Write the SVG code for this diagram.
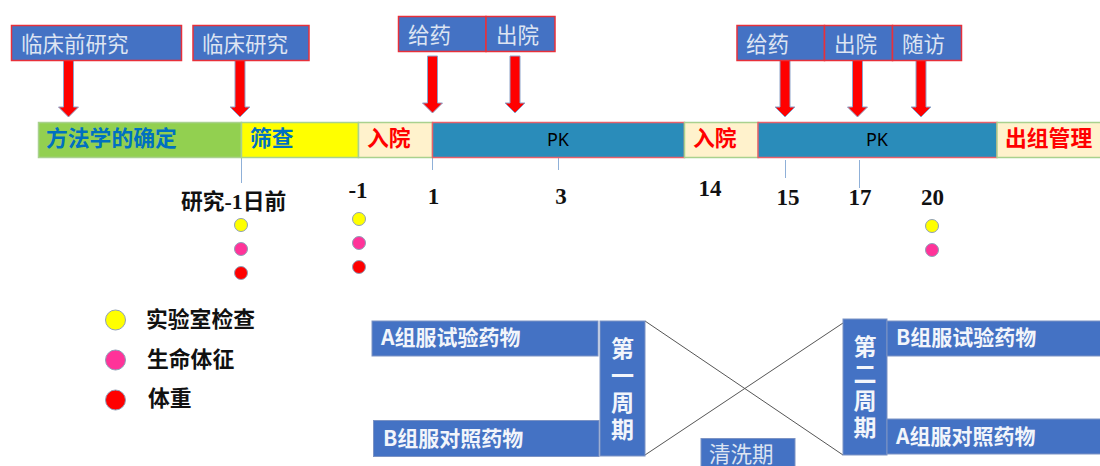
<svg xmlns="http://www.w3.org/2000/svg" width="1100" height="466" viewBox="0 0 1100 466">
<defs>
<style>
text{font-family:"Noto Sans CJK SC","Liberation Sans",sans-serif}
.hd rect{fill:#4472c4;stroke:#e8303a;stroke-width:1.5}
.hd text{fill:#dce4f2;font-size:21.5px}
.seg{stroke-width:1.5}
.green{fill:#92d050;stroke:#a9d18e}
.yellow{fill:#ffff00;stroke:#a9d18e}
.cream{fill:#fff2cc;stroke:#a9d18e}
.pk{fill:#2a8cba;stroke:#e8606a}
.t-b{fill:#0070c0;font-size:21.800px;font-weight:700}
.t-r{fill:#ff0000;font-size:21.800px;font-weight:700}
.t-k{fill:#000;font-size:18px;font-family:"Noto Sans","Liberation Sans",sans-serif}
.num{font-family:"Liberation Serif",serif;font-weight:700;font-size:23px;fill:#111;text-anchor:middle}
.lab{font-size:21.800px;font-weight:700;fill:#111}
.arrow{fill:#ff0000;stroke:#8da3c9;stroke-width:1}
.tick{stroke:#8fb0d8;stroke-width:1;fill:none}
.c-y{fill:#ffff00;stroke:#8f9fb8;stroke-width:1}
.c-p{fill:#ff3399;stroke:#8f9fb8;stroke-width:1}
.c-r{fill:#ff0000;stroke:#8f9fb8;stroke-width:1}
.blue rect{fill:#4472c4;stroke:#7c93c4;stroke-width:1}
.blue text{fill:#f2f5fb;font-size:21px;font-weight:700}
.blue text.vt{font-size:23px;writing-mode:vertical-rl;letter-spacing:4px}
.x{stroke:#555;stroke-width:1;fill:none}
</style>
<path id="arr" class="arrow" d="M-5,0H5V47H10L0,57L-10,47H-5Z"/>
</defs>

<g id="connectors">
<line class="x" x1="645" y1="321" x2="843" y2="455"/>
<line class="x" x1="645" y1="455" x2="843" y2="323"/>
<path class="tick" d="M241.500,157V183M432.500,157V170M558.500,157V170M785.500,160V178M859.500,160V188"/>
<use href="#arr" x="68.500" y="60"/>
<use href="#arr" x="240" y="60"/>
<use href="#arr" x="432.500" y="56"/>
<use href="#arr" x="515" y="56"/>
<use href="#arr" x="785" y="60"/>
<use href="#arr" x="857.500" y="60"/>
<use href="#arr" x="921" y="60"/>
</g>

<g id="n-preclinical" class="hd"><rect x="11.500" y="25.500" width="170" height="35"/><text x="21" y="52">临床前研究</text></g>
<g id="n-clinical" class="hd"><rect x="193" y="25.500" width="116" height="35"/><text x="202" y="52">临床研究</text></g>
<g id="n-dose1" class="hd"><rect x="398.500" y="16.500" width="87.500" height="35"/><text x="408" y="43">给药</text></g>
<g id="n-out1" class="hd"><rect x="486" y="16.500" width="69" height="35"/><text x="496" y="43">出院</text></g>
<g id="n-dose2" class="hd"><rect x="737" y="25.500" width="87.500" height="35"/><text x="746" y="52">给药</text></g>
<g id="n-out2" class="hd"><rect x="824.500" y="25.500" width="68" height="35"/><text x="834" y="52">出院</text></g>
<g id="n-visit" class="hd"><rect x="892.500" y="25.500" width="69" height="35"/><text x="902" y="52">随访</text></g>

<g id="n-method"><rect class="seg green" x="38.500" y="122.500" width="203" height="35"/><text class="t-b" x="46" y="146">方法学的确定</text></g>
<g id="n-screen"><rect class="seg yellow" x="241.500" y="122.500" width="117" height="35"/><text class="t-b" x="250" y="146">筛查</text></g>
<g id="n-in1"><rect class="seg cream" x="358.500" y="122.500" width="74" height="35"/><text class="t-r" x="367" y="146">入院</text></g>
<g id="n-pk1"><rect class="seg pk" x="432.500" y="122.500" width="252" height="35"/><text class="t-k" x="558" y="146" text-anchor="middle">PK</text></g>
<g id="n-in2"><rect class="seg cream" x="684.500" y="122.500" width="74" height="35"/><text class="t-r" x="693" y="146">入院</text></g>
<g id="n-pk2"><rect class="seg pk" x="758" y="122.500" width="239" height="35"/><text class="t-k" x="877" y="146" text-anchor="middle">PK</text></g>
<g id="n-exit"><rect class="seg cream" x="997" y="122.500" width="105" height="35"/><text class="t-r" x="1005" y="146">出组管理</text></g>

<g id="days">
<text class="lab" x="181" y="209">研究<tspan style="font-family:'Liberation Serif',serif">-1</tspan>日前</text>
<text class="num" x="358" y="198">-1</text>
<text class="num" x="433.500" y="204">1</text>
<text class="num" x="561" y="204">3</text>
<text class="num" x="710" y="196">14</text>
<text class="num" x="788" y="205">15</text>
<text class="num" x="860" y="205">17</text>
<text class="num" x="932.500" y="205">20</text>
</g>

<g id="marks">
<circle class="c-y" cx="241" cy="225" r="6.500"/><circle class="c-p" cx="241" cy="249" r="6.500"/><circle class="c-r" cx="241" cy="273" r="6.500"/>
<circle class="c-y" cx="359" cy="219" r="6.500"/><circle class="c-p" cx="359" cy="243" r="6.500"/><circle class="c-r" cx="359" cy="267" r="6.500"/>
<circle class="c-y" cx="932" cy="226" r="6.500"/><circle class="c-p" cx="932" cy="250" r="6.500"/>
</g>

<g id="legend-lab"><circle class="c-y" cx="115.500" cy="320" r="10"/><text class="lab" x="146" y="327">实验室检查</text></g>
<g id="legend-vital"><circle class="c-p" cx="115.500" cy="360" r="10"/><text class="lab" x="147" y="367">生命体征</text></g>
<g id="legend-weight"><circle class="c-r" cx="115.500" cy="400" r="10"/><text class="lab" x="148" y="406">体重</text></g>

<g id="n-a-test" class="blue"><rect x="372" y="321" width="226" height="35"/><text x="381" y="345">A组服试验药物</text></g>
<g id="n-b-ctrl" class="blue"><rect x="373.500" y="420.500" width="225.500" height="36"/><text x="383" y="446">B组服对照药物</text></g>
<g id="n-p1" class="blue"><rect x="600" y="321" width="45" height="135"/><text class="vt" x="622.500" y="337">第一周期</text></g>
<g id="n-p2" class="blue"><rect x="843" y="319" width="44" height="136"/><text class="vt" x="865" y="335">第二周期</text></g>
<g id="n-b-test" class="blue"><rect x="887" y="321" width="215" height="35"/><text x="896" y="345">B组服试验药物</text></g>
<g id="n-a-ctrl" class="blue"><rect x="887" y="419" width="215" height="35"/><text x="896" y="444">A组服对照药物</text></g>
<g id="n-wash" class="hd"><rect x="701" y="438.500" width="94" height="30" style="stroke:#7c93c4;stroke-width:1"/><text x="709" y="462">清洗期</text></g>
</svg>
